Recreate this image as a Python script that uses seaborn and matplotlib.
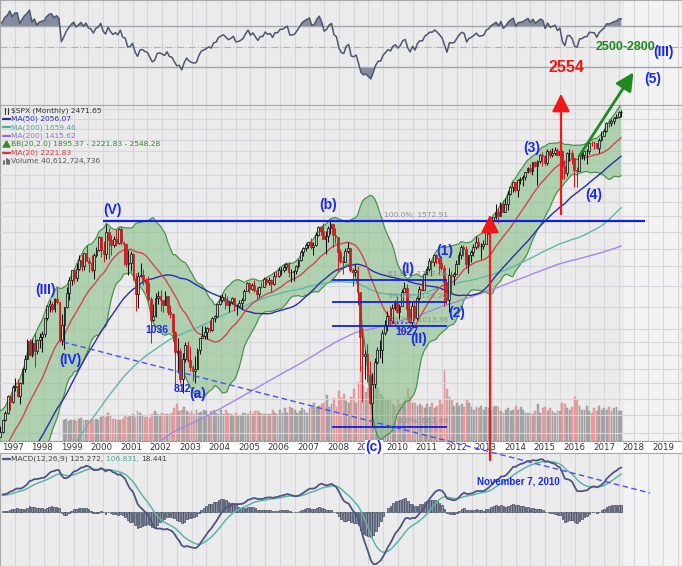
import numpy as np
import pandas as pd
import matplotlib
matplotlib.use("Agg")
import matplotlib.pyplot as plt
from matplotlib.ticker import NullLocator
import seaborn as sns

sns.set_theme(style="white")
plt.rcParams['font.family'] = ['DejaVu Sans']

# ---- data: S&P 500 monthly closes, Jan 1983 .. Aug 2017 ----
start_year = 1983
close = [
    145.30, 148.06, 152.96, 164.42, 162.39, 168.11, 162.56, 164.40, 166.07, 163.55, 166.40, 164.93,
    163.41, 157.06, 159.18, 160.05, 150.55, 153.18, 150.66, 166.68, 166.10, 166.09, 163.58, 167.24,
    179.63, 181.18, 180.66, 179.83, 189.55, 191.85, 190.92, 188.63, 182.08, 189.82, 202.17, 211.28,
    211.78, 226.92, 238.90, 235.52, 247.35, 250.84, 236.12, 252.93, 231.32, 243.98, 249.22, 242.17,
    274.08, 284.20, 291.70, 288.36, 290.10, 304.00, 318.66, 329.80, 321.83, 251.79, 230.30, 247.08,
    257.07, 267.82, 258.89, 261.33, 262.16, 273.50, 272.02, 261.52, 271.91, 278.97, 273.70, 277.72,
    297.47, 288.86, 294.87, 309.64, 320.52, 317.98, 346.08, 351.45, 349.15, 340.36, 345.99, 353.40,
    329.08, 331.89, 339.94, 330.80, 361.23, 358.02, 356.15, 322.56, 306.05, 304.00, 322.22, 330.22,
    343.93, 367.07, 375.22, 375.35, 389.83, 371.16, 387.81, 395.43, 387.86, 392.46, 375.22, 417.09,
    408.79, 412.70, 403.69, 414.95, 415.35, 408.14, 424.21, 414.03, 417.80, 418.68, 431.35, 435.71,
    438.78, 443.38, 451.67, 440.19, 450.19, 450.53, 448.13, 463.56, 458.93, 467.83, 461.79, 466.45,
    481.61, 467.14, 445.77, 450.91, 456.50, 444.27, 458.26, 475.49, 462.69, 472.35, 453.69, 459.27,
    470.42, 487.39, 500.71, 514.71, 533.40, 544.75, 562.06, 561.88, 584.41, 581.50, 605.37, 615.93,
    636.02, 640.43, 645.50, 654.17, 669.12, 670.63, 639.95, 651.99, 687.33, 705.27, 757.02, 740.74,
    786.16, 790.82, 757.12, 801.34, 848.28, 885.14, 954.31, 899.47, 947.28, 914.62, 955.40, 970.43,
    980.28, 1049.34, 1101.75, 1111.75, 1090.82, 1133.84, 1120.67, 957.28, 1017.01, 1098.67, 1163.63, 1229.23,
    1279.64, 1238.33, 1286.37, 1335.18, 1301.84, 1372.71, 1328.72, 1320.41, 1282.71, 1362.93, 1388.91, 1469.25,
    1394.46, 1366.42, 1498.58, 1452.43, 1420.60, 1454.60, 1430.83, 1517.68, 1436.51, 1429.40, 1314.95, 1320.28,
    1366.01, 1239.94, 1160.33, 1249.46, 1255.82, 1224.38, 1211.23, 1133.58, 1040.94, 1059.78, 1139.45, 1148.08,
    1130.20, 1106.73, 1147.39, 1076.92, 1067.14, 989.82, 911.62, 916.07, 815.28, 885.76, 936.31, 879.82,
    855.70, 841.15, 848.18, 916.92, 963.59, 974.50, 990.31, 1008.01, 995.97, 1050.71, 1058.20, 1111.92,
    1131.13, 1144.94, 1126.21, 1107.30, 1120.68, 1140.84, 1101.72, 1104.24, 1114.58, 1130.20, 1173.82, 1211.92,
    1181.27, 1203.60, 1180.59, 1156.85, 1191.50, 1191.33, 1234.18, 1220.33, 1228.81, 1207.01, 1249.48, 1248.29,
    1280.08, 1280.66, 1294.83, 1310.61, 1270.09, 1270.20, 1276.66, 1303.82, 1335.85, 1377.94, 1400.63, 1418.30,
    1438.24, 1406.82, 1420.86, 1482.37, 1530.62, 1503.35, 1455.27, 1473.99, 1526.75, 1549.38, 1481.14, 1468.36,
    1378.55, 1330.63, 1322.70, 1385.59, 1400.38, 1280.00, 1267.38, 1282.83, 1166.36, 968.75, 896.24, 903.25,
    825.88, 735.09, 797.87, 872.81, 919.14, 919.32, 987.48, 1020.62, 1057.08, 1036.19, 1095.63, 1115.10,
    1073.87, 1104.49, 1169.43, 1186.69, 1089.41, 1030.71, 1101.60, 1049.33, 1141.20, 1183.26, 1180.55, 1257.64,
    1286.12, 1327.22, 1325.83, 1363.61, 1345.20, 1320.64, 1292.28, 1218.89, 1131.42, 1253.30, 1246.96, 1257.60,
    1312.41, 1365.68, 1408.47, 1397.91, 1310.33, 1362.16, 1379.32, 1406.58, 1440.67, 1412.16, 1416.18, 1426.19,
    1498.11, 1514.68, 1569.19, 1597.57, 1630.74, 1606.28, 1685.73, 1632.97, 1681.55, 1756.54, 1805.81, 1848.36,
    1782.59, 1859.45, 1872.34, 1883.95, 1923.57, 1960.23, 1930.67, 2003.37, 1972.29, 2018.05, 2067.56, 2058.90,
    1994.99, 2104.50, 2067.89, 2085.51, 2107.39, 2063.11, 2103.84, 1972.18, 1920.03, 2079.36, 2080.41, 2043.94,
    1940.24, 1932.23, 2059.74, 2065.30, 2096.95, 2098.86, 2173.60, 2170.95, 2168.27, 2126.15, 2198.81, 2238.83,
    2278.87, 2363.64, 2362.72, 2384.20, 2411.80, 2423.41, 2470.30, 2471.65,
]

# monthly highs / lows for the candles, Jul 1996 .. Aug 2017
candle_start = 1996 + 6 / 12
high = [
    672, 670, 690, 714, 762, 762,
    794, 818, 815, 805, 851, 898, 961, 961, 962, 987, 962, 986,
    992, 1051, 1106, 1130, 1122, 1139, 1190, 1121, 1066, 1100, 1193, 1244,
    1280, 1283, 1317, 1362, 1368, 1377, 1421, 1350, 1362, 1373, 1410, 1473,
    1478, 1445, 1553, 1528, 1481, 1475, 1518, 1525, 1531, 1440, 1432, 1390,
    1383, 1376, 1267, 1269, 1316, 1286, 1239, 1247, 1144, 1110, 1164, 1173,
    1176, 1131, 1173, 1147, 1107, 1070, 994, 965, 925, 907, 951, 954,
    935, 864, 895, 924, 965, 1015, 1016, 1012, 1040, 1054, 1064, 1112,
    1155, 1159, 1163, 1150, 1128, 1146, 1141, 1110, 1131, 1142, 1184, 1217,
    1218, 1212, 1229, 1192, 1200, 1219, 1245, 1246, 1244, 1233, 1270, 1276,
    1295, 1297, 1311, 1318, 1326, 1284, 1280, 1306, 1340, 1389, 1407, 1431,
    1441, 1461, 1438, 1498, 1535, 1540, 1556, 1503, 1539, 1576, 1545, 1523,
    1471, 1396, 1359, 1404, 1440, 1405, 1292, 1314, 1303, 1167, 1007, 918,
    943, 876, 833, 889, 930, 956, 996, 1039, 1081, 1101, 1113, 1130,
    1150, 1112, 1181, 1220, 1206, 1132, 1120, 1130, 1149, 1196, 1227, 1263,
    1303, 1345, 1333, 1366, 1371, 1346, 1356, 1307, 1230, 1293, 1277, 1270,
    1333, 1378, 1420, 1422, 1415, 1364, 1392, 1427, 1475, 1470, 1434, 1448,
    1504, 1530, 1571, 1598, 1688, 1654, 1698, 1710, 1730, 1776, 1814, 1850,
    1850, 1868, 1884, 1897, 1925, 1969, 1992, 2006, 2019, 2024, 2075, 2093,
    2065, 2120, 2117, 2126, 2135, 2129, 2132, 2113, 2021, 2094, 2117, 2105,
    2038, 1963, 2073, 2111, 2104, 2121, 2178, 2194, 2188, 2169, 2214, 2278,
    2301, 2371, 2401, 2399, 2419, 2454, 2484, 2491,
]
low = [
    605, 639, 649, 684, 703, 716,
    737, 773, 756, 733, 797, 839, 883, 894, 893, 855, 902, 926,
    912, 971, 1041, 1076, 1074, 1074, 1114, 950, 939, 923, 1092, 1132,
    1205, 1211, 1222, 1282, 1276, 1282, 1329, 1268, 1268, 1234, 1353, 1387,
    1350, 1326, 1340, 1339, 1362, 1407, 1413, 1425, 1420, 1305, 1295, 1255,
    1274, 1228, 1081, 1092, 1243, 1203, 1165, 1124, 944, 1038, 1054, 1114,
    1081, 1074, 1105, 1063, 1048, 952, 776, 833, 801, 769, 873, 872,
    840, 807, 801, 847, 902, 964, 962, 960, 990, 994, 1031, 1054,
    1105, 1121, 1087, 1105, 1076, 1113, 1078, 1060, 1102, 1090, 1131, 1173,
    1164, 1180, 1171, 1137, 1146, 1188, 1191, 1201, 1201, 1168, 1201, 1246,
    1245, 1253, 1268, 1280, 1245, 1219, 1224, 1261, 1290, 1327, 1360, 1385,
    1403, 1396, 1364, 1416, 1476, 1484, 1454, 1371, 1439, 1489, 1407, 1435,
    1270, 1317, 1257, 1324, 1373, 1272, 1200, 1247, 1107, 840, 741, 815,
    804, 735, 667, 783, 866, 889, 869, 979, 992, 1020, 1029, 1086,
    1071, 1045, 1101, 1170, 1040, 1028, 1011, 1040, 1039, 1131, 1173, 1186,
    1262, 1276, 1249, 1302, 1311, 1258, 1283, 1101, 1114, 1075, 1158, 1203,
    1258, 1312, 1341, 1358, 1292, 1267, 1325, 1355, 1397, 1403, 1343, 1398,
    1426, 1485, 1501, 1536, 1581, 1560, 1604, 1627, 1633, 1646, 1746, 1768,
    1770, 1738, 1834, 1815, 1860, 1915, 1916, 1904, 1964, 1821, 2001, 1973,
    1981, 1980, 2040, 2048, 2068, 2057, 2044, 1867, 1872, 1893, 2019, 1993,
    1812, 1810, 1937, 2034, 2025, 1992, 2074, 2148, 2120, 2114, 2084, 2188,
    2245, 2271, 2322, 2329, 2353, 2405, 2407, 2418,
]

# monthly volume in billions of shares, Sep 1998 .. Aug 2017
volume_start = 1998 + 8 / 12
volume = [
    28, 30, 27, 28,
    28, 27, 30, 31, 29, 28, 28, 29, 28, 30, 29, 32,
    34, 33, 38, 35, 30, 30, 28, 29, 30, 35, 33, 34,
    36, 33, 40, 38, 35, 33, 32, 31, 37, 40, 36, 35,
    38, 36, 37, 36, 38, 44, 50, 40, 42, 46, 40, 38,
    40, 37, 42, 38, 39, 42, 40, 34, 40, 42, 38, 36,
    42, 37, 42, 38, 36, 35, 38, 34, 34, 38, 38, 37,
    40, 36, 40, 40, 38, 36, 36, 37, 36, 42, 38, 36,
    42, 38, 44, 38, 46, 44, 42, 38, 40, 44, 42, 38,
    44, 46, 52, 44, 48, 50, 52, 62, 46, 50, 58, 46,
    68, 58, 64, 54, 52, 60, 70, 52, 80, 100, 74, 66,
    72, 80, 92, 76, 72, 64, 60, 54, 56, 58, 50, 48,
    56, 50, 52, 58, 72, 60, 52, 52, 48, 50, 48, 44,
    50, 46, 52, 44, 48, 56, 50, 96, 70, 60, 56, 48,
    52, 48, 50, 46, 56, 52, 46, 42, 46, 44, 48, 42,
    46, 44, 42, 46, 48, 46, 40, 38, 42, 44, 40, 42,
    48, 42, 46, 42, 38, 38, 38, 36, 40, 50, 38, 44,
    46, 40, 44, 40, 38, 40, 40, 52, 50, 44, 42, 46,
    60, 56, 48, 42, 42, 48, 40, 38, 44, 40, 48, 42,
    44, 42, 46, 40, 44, 46, 40, 40.6,
]

fib_low, fib_high = 667.49, 1572.91
fib_ratios = [0.0, 0.382, 0.5, 0.618, 1.0]
year_labels = list(range(1997, 2020))
price_grid = [650, 700, 750, 800, 850, 900, 950, 1000, 1100, 1200, 1300, 1400, 1500,
              1600, 1700, 1800, 1900, 2000, 2100, 2200, 2300, 2400, 2500]

# ---- indicators ----
n = len(close)
t = start_year + np.arange(n) / 12
s = pd.Series(close, dtype=float)
ma20 = s.rolling(20).mean()
sd20 = s.rolling(20).std(ddof=0)
bb_up, bb_lo = ma20 + 2 * sd20, ma20 - 2 * sd20
ma50, ma100, ma200 = s.rolling(50).mean(), s.rolling(100).mean(), s.rolling(200).mean()

delta = s.diff()
gain = delta.clip(lower=0).ewm(alpha=1 / 14, adjust=False).mean()
loss = (-delta.clip(upper=0)).ewm(alpha=1 / 14, adjust=False).mean()
rsi = 100 - 100 / (1 + gain / loss)

macd = s.ewm(span=12, adjust=False).mean() - s.ewm(span=26, adjust=False).mean()
signal = macd.ewm(span=9, adjust=False).mean()
hist = macd - signal

# ---- layout (pixel based) ----
W, H = 682, 566
PX_YR, X1997 = 29.56, 12.7
xlim = (1997 - X1997 / PX_YR, 1997 + (W - X1997) / PX_YR)
Y0, K = 426.7, 240.5          # pixel of fib_low and px per ln unit
TOP_RSI, TOP_MAIN, BOT_MAIN, TOP_MACD = 0, 105, 441, 453
MACD_ZERO, MACD_PX = 512, 0.355

BG = '#ebebeb'
GRID = '#d6d6dc'

fig = plt.figure(figsize=(W / 100, H / 100), dpi=100)
fig.patch.set_facecolor('white')


def panel(y0, y1, x0=0, x1=W):
    return fig.add_axes([x0 / W, 1 - y1 / H, (x1 - x0) / W, (y1 - y0) / H])


half_years = np.arange(1996.5, 2020.0, 0.5)
last_t = t[-1]


def style(a, bg=BG):
    a.set_facecolor(bg)
    a.set_xlim(*xlim)
    a.set_xticks(half_years)
    a.xaxis.set_minor_locator(NullLocator())
    a.grid(True, axis='x', color=GRID, lw=0.8)
    a.tick_params(length=0, labelbottom=False, labelleft=False)
    a.axvspan(last_t + 0.1, xlim[1], color='#f3f3f3', zorder=0, lw=0)
    for sp in a.spines.values():
        sp.set_color('#a8a8a8')
        sp.set_linewidth(0.8)


# RSI panel
ax_rsi = panel(TOP_RSI, TOP_MAIN)
style(ax_rsi)
kr = (67 - 26) / 40
ax_rsi.set_ylim(30 - (TOP_MAIN - 67) / kr, 70 + 26 / kr)
ax_rsi.set_yticks([])
ax_rsi.axhline(70, color='#a4a4ac', lw=1)
ax_rsi.axhline(30, color='#a4a4ac', lw=1)
ax_rsi.axhline(50, color='#b0b0b0', lw=0.8, ls='-.')
ax_rsi.fill_between(t, 70, rsi, where=rsi > 70, interpolate=True, color='#6c7590', alpha=0.8, lw=0)
ax_rsi.fill_between(t, 30, rsi, where=rsi < 30, interpolate=True, color='#6c7590', alpha=0.8, lw=0)
ax_rsi.plot(t, rsi, color='#4e566e', lw=1.1)

# volume behind price
ax_vol = panel(TOP_MAIN, BOT_MAIN)
style(ax_vol)
ax_vol.set_ylim(0, 40.6 / 30 * (BOT_MAIN - TOP_MAIN))
ax_vol.set_yticks([])
j0 = int(round((volume_start - start_year) * 12))
tv = t[j0:j0 + len(volume)]
v_down = s.values[j0:j0 + len(volume)] < s.values[j0 - 1:j0 - 1 + len(volume)]
ax_vol.bar(tv, volume, width=0.062,
           color=np.where(v_down, '#e8a2a4', '#a9a9ab'),
           edgecolor=np.where(v_down, '#d08c8e', '#939395'), lw=0.3)

# price panel
ax = panel(TOP_MAIN, BOT_MAIN)
ax.patch.set_visible(False)
ax.set_xlim(*xlim)
ax.set_yscale('log')
ax.set_ylim(fib_low * np.exp((Y0 - BOT_MAIN) / K), fib_low * np.exp((Y0 - TOP_MAIN) / K))
ax.set_xticks([])
ax.set_yticks([])
ax.yaxis.set_minor_locator(NullLocator())
for sp in ax.spines.values():
    sp.set_visible(False)
ax.hlines(price_grid, *xlim, color=GRID, lw=0.8, zorder=0)

ax.fill_between(t, bb_lo, bb_up, color='#8cc18a', alpha=0.62, lw=0, zorder=1)
ax.plot(t, bb_up, color='#4a9350', lw=0.9, zorder=2)
ax.plot(t, bb_lo, color='#4a9350', lw=0.9, zorder=2)
ax.plot(t, ma200, color='#a487ea', lw=1, zorder=2)
ax.plot(t, ma100, color='#60b8ac', lw=1, zorder=2)
ax.plot(t, ma50, color='#2b2fa4', lw=1, zorder=2)
ax.plot(t, ma20, color='#d44552', lw=1, zorder=2)

i0 = int(round((candle_start - start_year) * 12))
tc = t[i0:]
c = s.values[i0:]
o = s.values[i0 - 1:-1]
up = c >= o
edge = np.where(up, '#111111', '#c41f24')
face = np.where(up, '#b9d2b7', '#c41f24')
ax.vlines(tc, low, high, colors=edge, lw=0.75, zorder=4)
ax.bar(tc, np.abs(c - o), bottom=np.minimum(o, c), width=0.06,
       color=face, edgecolor=edge, lw=0.55, zorder=5)

# Elliott / fibonacci levels
fib_prices = [fib_low + r * (fib_high - fib_low) for r in fib_ratios]
ax.hlines(fib_prices[:4], 2007.8, 2011.7, color='#1020e0', lw=1.3, zorder=6)
ax.hlines(fib_high, 2000.05, 2018.4, color='#1020e0', lw=1.6, zorder=6)
for r, p in zip(fib_ratios, fib_prices):
    ax.text(2011.72, p * 1.012, f"{r * 100:.1f}%: {p:.2f}", ha='right', va='bottom',
            fontsize=5.4, color='#8c8c8c', zorder=6)

# date band
ax_date = panel(BOT_MAIN, TOP_MACD)
ax_date.set_facecolor('white')
ax_date.set_xlim(*xlim)
ax_date.set_ylim(0, 1)
ax_date.set_xticks([])
ax_date.set_yticks([])
for k_, sp in ax_date.spines.items():
    sp.set_visible(k_ in ('top', 'bottom'))
    sp.set_linestyle((0, (1, 1.5)))
    sp.set_color('#8a8a8a')
    sp.set_linewidth(0.8)
for yr in year_labels:
    ax_date.text(yr, 0.45, str(yr), ha='center', va='center', fontsize=6.2, color='#333333')

# MACD panel (bottom cut by the figure edge)
ax_m = panel(TOP_MACD, H)
style(ax_m)
vis = t >= xlim[0]
ax_m.set_ylim(-(H - MACD_ZERO) / MACD_PX, (MACD_ZERO - TOP_MACD) / MACD_PX)
ax_m.set_yticks([])
ax_m.bar(t[vis], hist[vis], width=0.06, color='#8a90a6', edgecolor='#40465c', lw=0.5)
ax_m.plot(t[vis], signal[vis], color='#5cb5aa', lw=1.1)
ax_m.plot(t[vis], macd[vis], color='#4e5582', lw=1.3)

# ---- overlay: legends and hand drawn annotations (pixel coords) ----
ov = fig.add_axes([0, 0, 1, 1])
ov.set_xlim(0, W)
ov.set_ylim(H, 0)
ov.axis('off')

legend = [
    ("$SPX (Monthly) 2471.65", '#333333', 'candle'),
    ("MA(50) 2056.07", '#2b2fa4', 'line'),
    ("MA(100) 1659.46", '#4fa89c', 'line'),
    ("MA(200) 1415.62", '#8e70e0', 'line'),
    ("BB(20,2.0) 1895.37 - 2221.83 - 2548.28", '#2f8a2f', 'band'),
    ("MA(20) 2221.83", '#d03848', 'line'),
    ("Volume 40,612,724,736", '#555555', 'bars'),
]
for i, (txt, col, kind) in enumerate(legend):
    y = 110.5 + i * 8.4
    if kind == 'line':
        ov.plot([3, 10], [y, y], color=col, lw=1.6)
    elif kind == 'candle':
        ov.plot([5, 5], [y - 3, y + 3], color='#333', lw=0.8)
        ov.plot([8, 8], [y - 3, y + 3], color='#333', lw=0.8)
    elif kind == 'band':
        ov.fill([3, 6.5, 10], [y + 3, y - 3, y + 3], color='#3a8a3a')
    else:
        for xb, hb in zip([4, 6.5, 9], [3, 5, 4]):
            ov.plot([xb, xb], [y + 3, y + 3 - hb], color='#555', lw=1.2)
    ov.text(11, y, txt, color=col, fontsize=5.4, va='center', ha='left')

ov.plot([3, 10], [459, 459], color='#4e5582', lw=1.6)
m1 = ov.text(11, 459, "MACD(12,26,9) 125.272, ", color='#444444', fontsize=5.4, va='center')
m2 = ov.annotate("106.831, ", xy=(1, 0.5), xycoords=m1, va='center', color='#4fa89c', fontsize=5.4)
ov.annotate("18.441", xy=(1, 0.5), xycoords=m2, va='center', color='#444444', fontsize=5.4)

BLUE = '#1c2ae8'
bold = dict(fontweight='bold', ha='center', va='center',
            family=['Liberation Sans Narrow', 'Liberation Sans', 'DejaVu Sans'])
waves = [("(V)", 113, 210), ("(III)", 46, 290), ("(IV)", 70, 360), ("(a)", 198, 394),
         ("(b)", 328, 205), ("(I)", 408, 269), ("(II)", 419, 339), ("(1)", 445, 251),
         ("(2)", 457, 313), ("(3)", 532, 148), ("(4)", 594, 195), ("(5)", 653, 79),
         ("(III)", 663, 52)]
for txt, x, y in waves:
    ov.text(x, y, txt, color=BLUE, fontsize=10, **bold)
ov.text(374, 447, "(c)", color=BLUE, fontsize=10,
        bbox=dict(facecolor='white', edgecolor='none', pad=0.3), **bold)
for txt, x, y in [("1036", 157, 330), ("812", 182, 389), ("1027", 407, 332)]:
    ov.text(x, y, txt, color=BLUE, fontsize=7.5, **bold)
ov.plot([388, 415], [323, 323], color=BLUE, lw=1.2, ls=':')

ov.plot([63, 650], [342, 493], color='#4a50f0', lw=1, ls=(0, (4, 2.5)))
ov.text(518, 482, "November 7, 2010", color=BLUE, fontsize=7, **bold)

ov.text(566, 67, "2554", color='#f01818', fontsize=11.5, **bold)
ov.text(625, 47, "2500-2800", color='#1f8a1f', fontsize=9, **bold)
ov.annotate('', xy=(561, 91), xytext=(561, 217),
            arrowprops=dict(arrowstyle='-|>,head_length=0.9,head_width=0.45', color='#f01818', lw=1.6))
ov.annotate('', xy=(490, 212), xytext=(490, 463),
            arrowprops=dict(arrowstyle='-|>,head_length=0.9,head_width=0.45', color='#f01818', lw=1.6))
ov.annotate('', xy=(635, 70), xytext=(578, 158),
            arrowprops=dict(arrowstyle='-|>,head_length=0.9,head_width=0.45', color='#1f8a1f', lw=2))

fig.savefig('out.png', dpi=100, facecolor='white')
